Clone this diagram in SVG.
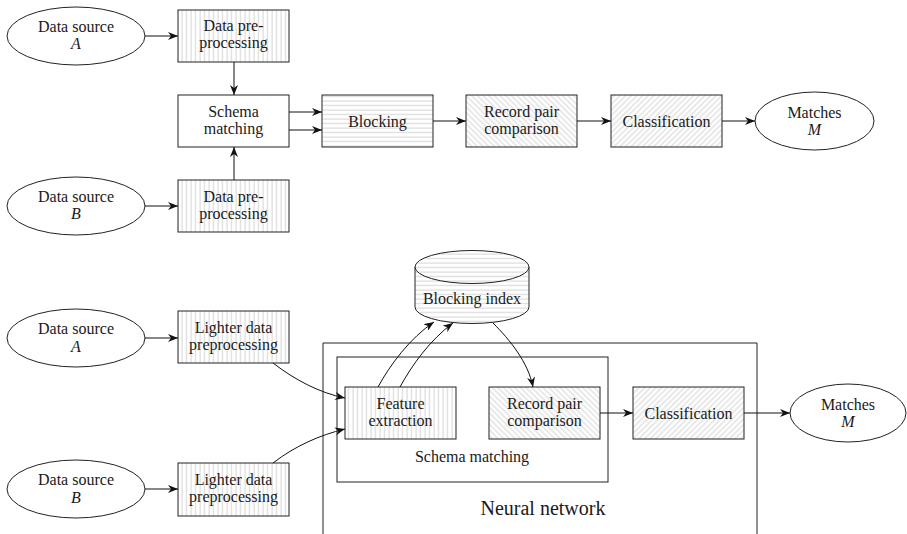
<svg xmlns="http://www.w3.org/2000/svg" width="907" height="534" viewBox="0 0 907 534">
<defs>
<pattern id="vl" width="4.5" height="4.5" patternUnits="userSpaceOnUse"><rect width="4.5" height="4.5" fill="#fff"/><line x1="2" y1="0" x2="2" y2="4.5" stroke="#c8c8c8" stroke-width="0.8"/></pattern>
<pattern id="hl" width="4.5" height="4.5" patternUnits="userSpaceOnUse"><rect width="4.5" height="4.5" fill="#fff"/><line x1="0" y1="2" x2="4.5" y2="2" stroke="#c8c8c8" stroke-width="0.8"/></pattern>
<pattern id="ne" width="4" height="4" patternUnits="userSpaceOnUse" patternTransform="rotate(45)"><rect width="4" height="4" fill="#fff"/><line x1="2" y1="0" x2="2" y2="4" stroke="#c8c8c8" stroke-width="0.8"/></pattern>
<pattern id="nw" width="4" height="4" patternUnits="userSpaceOnUse" patternTransform="rotate(-45)"><rect width="4" height="4" fill="#fff"/><line x1="2" y1="0" x2="2" y2="4" stroke="#c8c8c8" stroke-width="0.8"/></pattern>
<marker id="ar" viewBox="0 0 10 8" refX="10" refY="4" markerWidth="10" markerHeight="8" markerUnits="userSpaceOnUse" orient="auto"><path d="M0,0 L10,4 L0,8 L3,4 Z" fill="#111"/></marker>
</defs>
<style>
text{font-family:"Liberation Serif","DejaVu Serif",serif;font-size:16px;fill:#1a1a1a;text-anchor:middle}
.m{font-style:italic}
.big{font-size:20px}
.b{stroke:#222;stroke-width:1}
.e{fill:#fff;stroke:#222;stroke-width:1}
.c{fill:none;stroke:#111;stroke-width:1;marker-end:url(#ar)}
.fr{fill:none;stroke:#222;stroke-width:1}
</style>
<rect width="907" height="534" fill="#fff"/>

<!-- top pipeline -->
<g id="srcA"><ellipse class="e" cx="76" cy="36" rx="69" ry="29"/><text x="76" y="32">Data source</text><text class="m" x="76" y="49">A</text></g>
<g id="preA"><rect class="b" x="178" y="10" width="111" height="52" fill="url(#vl)"/><text x="233.5" y="31">Data pre-</text><text x="233.5" y="48">processing</text></g>
<g id="schema"><rect class="b" x="178" y="95" width="111" height="52" fill="#fff"/><text x="233.5" y="117">Schema</text><text x="233.5" y="134">matching</text></g>
<g id="srcB"><ellipse class="e" cx="76" cy="206" rx="69" ry="29"/><text x="76" y="202">Data source</text><text class="m" x="76" y="219">B</text></g>
<g id="preB"><rect class="b" x="178" y="180" width="111" height="52" fill="url(#vl)"/><text x="233.5" y="202">Data pre-</text><text x="233.5" y="219">processing</text></g>
<g id="blocking"><rect class="b" x="322" y="95" width="111" height="52" fill="url(#hl)"/><text x="377.5" y="127">Blocking</text></g>
<g id="rpc1"><rect class="b" x="466" y="95" width="111" height="52" fill="url(#nw)"/><text x="521.5" y="117">Record pair</text><text x="521.5" y="134">comparison</text></g>
<g id="cls1"><rect class="b" x="611" y="95" width="111" height="52" fill="url(#ne)"/><text x="666.5" y="127">Classification</text></g>
<g id="matches1"><ellipse class="e" cx="814.5" cy="121" rx="59.5" ry="29"/><text x="814.5" y="118">Matches</text><text class="m" x="814.5" y="135">M</text></g>

<!-- bottom pipeline -->
<g id="nn"><path class="fr" d="M323,540 V343 H757 V540"/><text class="big" x="543" y="515">Neural network</text></g>
<g id="schema2"><rect class="fr" x="337" y="357" width="271" height="125"/><text x="472" y="462">Schema matching</text></g>
<g id="srcA2"><ellipse class="e" cx="76" cy="338" rx="69" ry="29"/><text x="76" y="334">Data source</text><text class="m" x="76" y="352">A</text></g>
<g id="lightA"><rect class="b" x="178" y="311" width="111" height="52" fill="url(#vl)"/><text x="233.5" y="333">Lighter data</text><text x="233.5" y="350">preprocessing</text></g>
<g id="srcB2"><ellipse class="e" cx="76" cy="489" rx="69" ry="29"/><text x="76" y="485">Data source</text><text class="m" x="76" y="503">B</text></g>
<g id="lightB"><rect class="b" x="178" y="463" width="111" height="53" fill="url(#vl)"/><text x="233.5" y="485">Lighter data</text><text x="233.5" y="502">preprocessing</text></g>
<g id="fe"><rect class="b" x="345" y="387" width="111" height="52" fill="url(#vl)"/><text x="400.5" y="409">Feature</text><text x="400.5" y="426">extraction</text></g>
<g id="rpc2"><rect class="b" x="489" y="387" width="111" height="52" fill="url(#nw)"/><text x="544.5" y="409">Record pair</text><text x="544.5" y="426">comparison</text></g>
<g id="cls2"><rect class="b" x="633" y="387" width="111" height="52" fill="url(#ne)"/><text x="688.5" y="419">Classification</text></g>
<g id="matches2"><ellipse class="e" cx="848" cy="413" rx="58" ry="29"/><text x="848" y="410">Matches</text><text class="m" x="848" y="427">M</text></g>
<g id="bindex"><path class="b" d="M415,267 V307 A57,16.5 0 0 0 529,307 V267" fill="url(#hl)"/><ellipse class="b" cx="472" cy="267" rx="57" ry="16.5" fill="url(#hl)"/><text x="472" y="304">Blocking index</text></g>

<g id="connectors">
<path class="c" d="M145,36 H178"/>
<path class="c" d="M145,206 H178"/>
<path class="c" d="M234,62 V95"/>
<path class="c" d="M234,180 V147"/>
<path class="c" d="M289,112 H322"/>
<path class="c" d="M289,130 H322"/>
<path class="c" d="M433,121 H466"/>
<path class="c" d="M577,121 H611"/>
<path class="c" d="M722,121 H755"/>
<path class="c" d="M145,338 H178"/>
<path class="c" d="M145,489 H178"/>
<path class="c" d="M273,363 C295,380 320,393 345,398"/>
<path class="c" d="M273,463 C295,446 320,435 345,429"/>
<path class="c" d="M378,387 C390,365 410,338 434,322"/>
<path class="c" d="M400,387 C412,365 430,340 453,323"/>
<path class="c" d="M493,323 C510,340 528,362 533,387"/>
<path class="c" d="M600,413 H633"/>
<path class="c" d="M744,413 H790"/>
</g>
</svg>
